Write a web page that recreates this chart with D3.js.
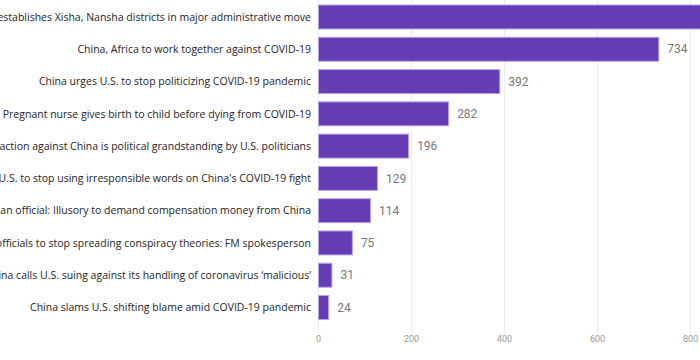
<!DOCTYPE html>
<html><head><meta charset="utf-8">
<script src="https://cdn.jsdelivr.net/npm/d3@7"></script>
<style>body{margin:0;background:#fff}svg{display:block}</style>
</head><body>
<svg id="c" width="700" height="360"></svg>
<script>
const categories = [
  "China establishes Xisha, Nansha districts in major administrative move",
  "China, Africa to work together against COVID-19",
  "China urges U.S. to stop politicizing COVID-19 pandemic",
  "Pregnant nurse gives birth to child before dying from COVID-19",
  "Legal action against China is political grandstanding by U.S. politicians",
  "China urges U.S. to stop using irresponsible words on China's COVID-19 fight",
  "Wuhan official: Illusory to demand compensation money from China",
  "China urges U.S. officials to stop spreading conspiracy theories: FM spokesperson",
  "China calls U.S. suing against its handling of coronavirus ‘malicious’",
  "China slams U.S. shifting blame amid COVID-19 pandemic"
];
const values = [880, 734, 392, 282, 196, 129, 114, 75, 31, 24];
const ticks = [0, 200, 400, 600, 800];

const svg = d3.select("#c");
const x = d3.scaleLinear().domain([0, 800]).range([318, 690]);
const y = d3.scaleBand().domain(categories).range([-2.8, 327.3]).padding(0.226);

// gridlines
svg.append("g").selectAll("line").data(ticks).join("line")
  .attr("x1", d => x(d) + 0.5).attr("x2", d => x(d) + 0.5)
  .attr("y1", 0).attr("y2", 333)
  .attr("stroke", "#ececec").attr("stroke-width", 1);

// axis
const ax = svg.append("g").attr("transform", "translate(0,336)")
  .call(d3.axisBottom(x).tickValues(ticks).tickSize(0).tickPadding(0));
ax.select(".domain").remove();
ax.selectAll("text").attr("fill", "#999").attr("font-size", "9px")
  .attr("font-family", "Roboto, 'DejaVu Sans', sans-serif").attr("dy", "0.71em");

// bars
svg.append("g").selectAll("rect").data(values).join("rect")
  .attr("x", x(0) + 0.5)
  .attr("y", (d, i) => y(categories[i]) + 0.5)
  .attr("width", d => x(d) - x(0) - 1)
  .attr("height", y.bandwidth() - 1)
  .attr("fill", "#643db5").attr("stroke", "#b9a2e8").attr("stroke-width", 1);

// category labels
svg.append("g").selectAll("text").data(categories).join("text")
  .attr("x", 311).attr("y", d => y(d) + y.bandwidth() / 2)
  .attr("dy", "0.35em").attr("text-anchor", "end")
  .attr("font-family", "'Open Sans', 'Noto Sans', sans-serif").attr("font-size", "10.5px")
  .attr("fill", "#252423").text(d => d);

// value labels
svg.append("g").selectAll("text").data(values).join("text")
  .attr("x", d => x(d) + 8).attr("y", (d, i) => y(categories[i]) + y.bandwidth() / 2)
  .attr("dy", "0.35em")
  .attr("font-family", "Roboto, 'DejaVu Sans', sans-serif").attr("font-size", "12px")
  .attr("fill", "#777").text(d => d);
</script>
</body></html>
